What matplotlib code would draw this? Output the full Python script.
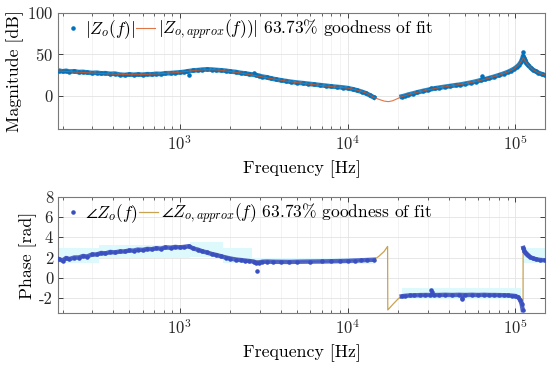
import matplotlib
matplotlib.use("Agg")
import matplotlib.pyplot as plt
import numpy as np

plt.rcParams['font.family'] = ['cmr10', 'DejaVu Serif']
plt.rcParams['mathtext.fontset'] = 'cm'
plt.rcParams['axes.formatter.use_mathtext'] = True
plt.rcParams['font.size'] = 11

# ---------------- Magnitude data ----------------
mag_f1 = [190, 200, 210, 220, 235, 250, 265, 280, 300, 320, 340, 360, 385, 410, 440, 470,
          500, 530, 560, 600, 640, 680, 720, 770, 820, 880, 940, 1000, 1060, 1100,
          1200, 1280, 1360, 1450, 1550, 1650, 1760, 1880, 2000, 2150, 2300, 2450, 2600,
          2850, 2950, 3100, 3300, 3500, 3750, 4000, 4300, 4600, 5000, 5400, 5800,
          6300, 6800, 7400, 8000, 8700, 9400, 10000, 10700, 11400, 12100, 12800, 13500, 14300]
mag_v1 = [30.5, 29.5, 30.2, 29.3, 29.6, 28.7, 28.9, 28.2, 27.6, 27.9, 27.1, 27.3, 26.5, 26.8,
          25.6, 25.2, 25.9, 25.4, 25.8, 25.5, 26.1, 25.9, 26.6, 26.4, 27.2, 27.4, 27.9, 28.3,
          28.9, 29.4, 30.6, 31.0, 31.6, 31.9, 31.7, 31.2, 30.8, 30.3, 29.4, 28.8, 27.7,
          27.0, 26.2, 25.0, 24.4, 23.2, 22.3, 21.0, 19.8, 18.8, 17.8, 16.9, 16.0, 15.3,
          14.6, 13.8, 13.0, 12.2, 11.4, 10.7, 10.0, 9.3, 8.0, 6.6, 5.0, 3.2, 0.9, -1.8]
mag_f2 = [21000, 22000, 23000, 24500, 26000, 28000, 30000, 33000, 35000, 38000, 41000,
          44000, 47000, 50000, 54000, 58000, 62000, 66000, 70000, 75000, 80000, 85000,
          90000, 94000, 98000, 102000, 105000, 108000, 110000, 111000, 112500, 114000,
          116000, 119000, 123000, 127000, 132000, 137000, 143000, 150000]
mag_v2 = [-0.8, 0.2, 1.5, 2.8, 4.2, 5.8, 7.1, 9.0, 9.8, 10.9, 11.9, 12.8, 13.6, 14.6, 15.9,
          17.3, 18.8, 20.1, 21.5, 23.2, 25.0, 26.8, 28.7, 30.5, 32.5, 35.0, 37.5, 41.0,
          45.0, 48.0, 46.0, 43.0, 40.0, 37.0, 34.0, 31.5, 29.5, 27.8, 26.3, 25.0]
# isolated measurement points
mag_out_f = [1130, 2750, 31500, 63500, 111500]
mag_out_v = [24.8, 27.5, 9.8, 23.5, 52.5]

fit_mag_f = [190, 250, 300, 400, 500, 600, 700, 800, 1000, 1200, 1400, 1600, 1900, 2300, 2800,
             3500, 4500, 6000, 8000, 10000, 11000, 12000, 13000, 14300, 15500, 16500, 17500,
             18500, 19500, 20500, 21000, 23000, 26000, 30000, 35000, 40000, 50000, 60000,
             70000, 80000, 90000, 98000, 105000, 109000, 111500, 114000, 119000, 127000,
             137000, 150000]
fit_mag_v = [30, 28.5, 27.6, 26.2, 25.6, 25.7, 26.2, 27, 28.5, 30.4, 31.5, 31.5, 30, 27.6, 24.6,
             20.8, 17.2, 14.0, 11.2, 9.3, 7.6, 5.5, 3.1, -1.8, -4.5, -6.3, -7.0, -6.0, -4.0,
             -2.0, -1.0, 1.3, 4.2, 7.2, 9.8, 11.6, 14.6, 18.0, 21.5, 25.0, 28.7, 32.5, 37.5,
             42.5, 46.0, 42.5, 37.0, 31.5, 27.8, 25.0]

# ---------------- Phase data ----------------
ph_f1 = [190, 200, 210, 220, 235, 250, 265, 280, 300, 320, 340, 360, 385, 410, 440, 470, 500,
         530, 560, 600, 640, 680, 720, 770, 820, 880, 940, 1000, 1060, 1130, 1200, 1280, 1360,
         1450, 1550, 1650, 1760, 1880, 2000, 2150, 2300, 2450, 2600, 2750, 2850, 2950,
         3100, 3300, 3600, 4000, 4500, 5000, 6000, 7000, 8000, 9000, 10000, 11000, 12000,
         13000, 14300]
ph_v1 = [1.85, 1.7, 1.95, 1.85, 2.0, 2.0, 2.15, 2.1, 2.3, 2.3, 2.45, 2.4, 2.55, 2.5, 2.6, 2.6,
         2.7, 2.68, 2.78, 2.75, 2.85, 2.82, 2.92, 2.88, 3.0, 2.97, 3.05, 3.0, 3.05, 3.12, 2.9,
         2.78, 2.62, 2.5, 2.35, 2.25, 2.12, 2.0, 1.9, 1.8, 1.75, 1.7, 1.65, 1.6, 1.5,
         1.5, 1.58, 1.6, 1.58, 1.57, 1.56, 1.58, 1.6, 1.61, 1.63, 1.65, 1.67, 1.7, 1.72,
         1.75, 1.78]
ph_f2 = [21000, 22000, 23500, 25000, 27000, 29000, 31000, 32500, 35000, 38000, 42000,
         46000, 50000, 55000, 60000, 65000, 70000, 75000, 80000, 85000, 90000, 95000,
         100000, 104000, 107000, 109000, 110500]
ph_v2 = [-1.85, -1.8, -1.76, -1.75, -1.73, -1.72, -1.72, -1.72, -1.72, -1.7, -1.72,
         -1.7, -1.72, -1.7, -1.72, -1.7, -1.72, -1.72, -1.73, -1.74, -1.75, -1.78,
         -1.82, -1.95, -2.25, -2.65, -3.2]
ph_f3 = [111500, 113000, 115000, 118000, 122000, 127000, 133000, 140000, 150000]
ph_v3 = [2.95, 2.65, 2.42, 2.22, 2.05, 1.92, 1.82, 1.76, 1.72]
# isolated measurement points
ph_out_f = [2900, 31500, 31700, 48000, 48200]
ph_out_v = [0.7, -1.25, -1.4, -2.15, -2.0]

fit_ph_f = [190, 250, 300, 400, 500, 600, 800, 1000, 1200, 1400, 1700, 2000, 2500, 3000, 5000,
            8000, 11000, 14300, 15300, 16500, 17300, 17350, 18700, 20000, 21000, 25000, 40000,
            70000, 95000, 103000, 108000, 111000, 111100, 114000, 120000, 130000, 150000]
fit_ph_v = [1.85, 2.05, 2.25, 2.45, 2.62, 2.75, 2.95, 3.02, 2.92, 2.65, 2.3, 2.0, 1.75, 1.62,
            1.58, 1.62, 1.7, 1.78, 2.1, 2.6, 3.1, -3.2, -2.6, -2.1, -1.85, -1.75, -1.72,
            -1.72, -1.76, -1.85, -2.3, -3.2, 3.0, 2.6, 2.1, 1.85, 1.72]

# confidence band (stepped)
band_f = [190, 330, 1150, 1800, 2700, 14500]
band_lo = [1.45, 1.95, 2.1, 1.5, 1.35, 1.35]
band_hi = [2.95, 3.25, 3.5, 2.9, 2.0, 2.0]
band2_f = [21000, 108000]
band2_lo = [-2.15, -2.15]
band2_hi = [-1.0, -1.0]
band3_f = [111000, 150000]
band3_lo = [1.5, 1.5]
band3_hi = [2.9, 2.9]

c_meas = '#0072BD'
c_fit = '#D95319'
c_meas2 = '#3A50C0'
c_fit2 = '#C8A352'
c_band = '#DDF9FC'

fig = plt.figure(figsize=(5.5, 3.68), dpi=100)
ax1 = fig.add_axes([0.1055, 0.6495, 0.8854, 0.3152])
ax2 = fig.add_axes([0.1055, 0.1495, 0.8854, 0.3152])

def style(ax):
    ax.set_xscale('log')
    ax.set_xlim(188, 150000)
    ax.grid(True, which='major', color='#E3E3E3', lw=0.6)
    ax.grid(True, which='minor', axis='x', color='#EFEFEF', lw=0.5)
    ax.tick_params(which='both', direction='in', top=True, right=True, colors='#262626',
                   labelsize=12)
    ax.tick_params(which='major', length=3.5, width=0.6)
    ax.tick_params(which='minor', length=2, width=0.5)
    for s in ax.spines.values():
        s.set_color('#7A7A7A')
        s.set_linewidth(0.8)
    ax.set_axisbelow(True)
    ax.set_xlabel('Frequency [Hz]', fontsize=12.8, labelpad=5)

leg_kw = dict(loc='upper left', ncol=2, frameon=False, fontsize=12.5, handlelength=1.1,
              columnspacing=0.05, handletextpad=0.15, borderaxespad=0.1, borderpad=0.2)

# Magnitude
ax1.plot(mag_f1, mag_v1, color=c_meas, lw=3.4, alpha=0.85, zorder=2)
ax1.plot(mag_f2, mag_v2, color=c_meas, lw=3.4, alpha=0.85, zorder=2)
ax1.plot(mag_f1 + mag_f2 + mag_out_f, mag_v1 + mag_v2 + mag_out_v, ls='none', marker='.',
         ms=4.5, color=c_meas, label=r'$|Z_o(f)|$', zorder=3)
ax1.plot(fit_mag_f, fit_mag_v, color=c_fit, lw=0.8, alpha=0.8, zorder=4,
         label=r'$|Z_{o,approx}(f))|$ 63.73% goodness of fit')
style(ax1)
ax1.set_ylim(-40, 100)
ax1.set_yticks([0, 50, 100])
ax1.set_ylabel('Magnitude [dB]', fontsize=12.8, labelpad=2)
ax1.legend(**leg_kw)

# Phase
ax2.fill_between(band_f, band_lo, band_hi, step='post', color=c_band, lw=0, zorder=1)
ax2.fill_between(band2_f, band2_lo, band2_hi, step='post', color=c_band, lw=0, zorder=1)
ax2.fill_between(band3_f, band3_lo, band3_hi, step='post', color=c_band, lw=0, zorder=1)
ax2.plot(fit_ph_f, fit_ph_v, color=c_fit2, lw=0.9, zorder=2,
         label=r'$\angle Z_{o,approx}(f)$ 63.73% goodness of fit')
for ff, vv in [(ph_f1, ph_v1), (ph_f2, ph_v2), (ph_f3, ph_v3)]:
    ax2.plot(ff, vv, color=c_meas2, lw=3.2, alpha=0.85, zorder=3)
ax2.plot(ph_f1 + ph_f2 + ph_f3 + ph_out_f, ph_v1 + ph_v2 + ph_v3 + ph_out_v, ls='none',
         marker='.', ms=4.5, color=c_meas2, label=r'$\angle Z_o(f)$', zorder=4)
style(ax2)
ax2.set_ylim(-3.5, 8)
ax2.set_yticks([-2, 0, 2, 4, 6, 8])
ax2.set_yticklabels(['-2', '0', '2', '4', '6', '8'])
ax2.set_ylabel('Phase [rad]', fontsize=12.8, labelpad=2)
h, l = ax2.get_legend_handles_labels()
ax2.legend(h[::-1], l[::-1], **leg_kw)

fig.savefig('out.png', dpi=100)
